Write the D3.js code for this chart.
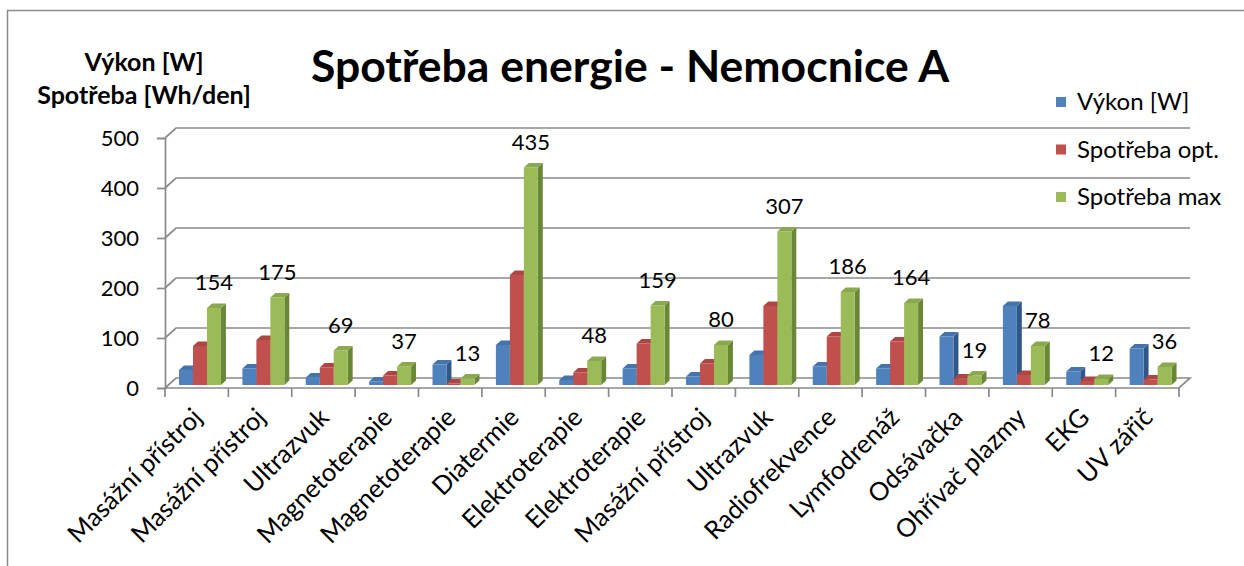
<!DOCTYPE html>
<html>
<head>
<meta charset="utf-8">
<script src="https://cdn.jsdelivr.net/npm/d3@7"></script>
<style>
  html, body { margin: 0; padding: 0; background: #fff; }
  svg { display: block; font-family: Lato, "Open Sans", sans-serif; }
</style>
</head>
<body>
<svg id="chart" width="1244" height="566"></svg>
<script>
// Device names along the category axis (duplicates are separate devices)
const categories = [
  "Masážní přístroj", "Masážní přístroj", "Ultrazvuk", "Magnetoterapie",
  "Magnetoterapie", "Diatermie", "Elektroterapie", "Elektroterapie",
  "Masážní přístroj", "Ultrazvuk", "Radiofrekvence", "Lymfodrenáž",
  "Odsávačka", "Ohřívač plazmy", "EKG", "UV zářič"
];
const seriesNames = ["Výkon [W]", "Spotřeba opt.", "Spotřeba max"];
const vykon       = [30, 33, 15, 7, 41, 80, 10, 33, 17, 60, 37, 33, 97, 158, 27, 73];
const spotrebaOpt = [78, 90, 35, 19, 3, 220, 25, 83, 43, 158, 97, 87, 13, 20, 8, 11];
const spotrebaMax = [154, 175, 69, 37, 13, 435, 48, 159, 80, 307, 186, 164, 19, 78, 12, 36];
const yTicks = [0, 100, 200, 300, 400, 500];

const series = [vykon, spotrebaOpt, spotrebaMax];
const palette = [
  { front: "#4f81bd", top: "#4574ad", side: "#2f5788" },
  { front: "#c0504d", top: "#ad4643", side: "#8a3532" },
  { front: "#9bbb59", top: "#8aa84d", side: "#6a8738" }
];

const svg = d3.select("#chart");
const gridColor = "#8a8a8a";

// Front plane scales
const x0 = d3.scaleBand().domain(d3.range(categories.length))
  .range([165, 1179]).paddingInner(0.338).paddingOuter(0.169);
const x1 = d3.scaleBand().domain(d3.range(series.length)).range([0, x0.bandwidth()]);
const y = d3.scaleLinear().domain([0, 500]).range([388, 138]);

// Depth projection: 0 = front plane, 1 = back wall
const depthX = d3.scaleLinear().domain([0, 1]).range([0, 11]);
const depthY = d3.scaleLinear().domain([0, 1]).range([0, -10]);
const barFront = 0.3, barBack = 0.75;

// Outer chart border
svg.append("rect").attr("x", 7.5).attr("y", 10.5).attr("width", 1400).attr("height", 700)
  .attr("fill", "none").attr("stroke", "#8c8c8c").attr("stroke-width", 1.5);

// Walls: gridlines on side wall + back wall
const walls = svg.append("g").attr("fill", "none").attr("stroke", gridColor).attr("stroke-width", 1.7);
const xL = x0.range()[0], xR = x0.range()[1];
yTicks.forEach(t => {
  const yf = y(t);
  const pts = t === 0
    ? [[xL, yf], [xL + depthX(1), yf + depthY(1)], [xR + depthX(1), yf + depthY(1)], [xR, yf], [xL, yf]]
    : [[xL, yf], [xL + depthX(1), yf + depthY(1)], [xR + depthX(1), yf + depthY(1)]];
  walls.append("path").attr("d", d3.line()(pts));
});

// Y axis (front left edge) with ticks and labels
const yAxis = d3.axisLeft(y).tickValues(yTicks).tickSize(8).tickPadding(18);
const yg = svg.append("g").attr("transform", `translate(${xL},0)`).call(yAxis);
yg.select(".domain").attr("stroke", gridColor).attr("stroke-width", 1.7);
yg.selectAll(".tick line").attr("stroke", gridColor).attr("stroke-width", 1.7);
yg.selectAll(".tick text").attr("font-size", 22).attr("fill", "#000")
  .attr("font-family", "Lato, sans-serif");

// X axis category ticks
const tickXs = d3.range(categories.length + 1).map(i => xL + i * x0.step());
svg.append("g").selectAll("line").data(tickXs).join("line")
  .attr("x1", d => d).attr("x2", d => d).attr("y1", y(0)).attr("y2", y(0) + 9)
  .attr("stroke", gridColor).attr("stroke-width", 1.7);

// Bars
const ddx = depthX(barBack) - depthX(barFront), ddy = depthY(barBack) - depthY(barFront);
const bars = svg.append("g");
categories.forEach((c, i) => {
  series.forEach((vals, s) => {
    const v = vals[i];
    const bx = x0(i) + x1(s) + depthX(barFront);
    const w = x1.bandwidth();
    const yb = y(0) + depthY(barFront);
    const yt = y(v) + depthY(barFront);
    const col = palette[s];
    // side face
    bars.append("path").attr("fill", col.side)
      .attr("d", d3.line()([[bx + w, yt], [bx + w + ddx, yt + ddy], [bx + w + ddx, yb + ddy], [bx + w, yb]]) + "Z");
    // front face
    bars.append("rect").attr("x", bx).attr("y", yt).attr("width", w).attr("height", yb - yt)
      .attr("fill", col.front);
    // top face
    bars.append("path").attr("fill", col.top)
      .attr("d", d3.line()([[bx, yt], [bx + w, yt], [bx + w + ddx, yt + ddy], [bx + ddx, yt + ddy]]) + "Z");
  });
});

// Value labels above the max-consumption bars
svg.append("g").selectAll("text").data(spotrebaMax).join("text")
  .attr("x", (d, i) => x0(i) + x1(2) + x1.bandwidth() / 2 + depthX(barFront))
  .attr("y", d => y(d) + depthY(barFront) - 18)
  .attr("text-anchor", "middle").attr("font-size", 22).attr("fill", "#000")
  .text(d => d);

// Category labels, rotated
svg.append("g").selectAll("text").data(categories).join("text")
  .attr("transform", (d, i) => `translate(${x0(i) + x0.bandwidth() / 2 + 7},${y(0) + 31}) rotate(-45)`)
  .attr("text-anchor", "end").attr("font-size", 25.5).attr("fill", "#000")
  .text(d => d);

// Title
svg.append("text").attr("x", 630).attr("y", 82).attr("text-anchor", "middle")
  .attr("font-size", 44.5).attr("font-weight", "bold").attr("fill", "#000")
  .text("Spotřeba energie - Nemocnice A");

// Axis title (two lines)
const at = svg.append("text").attr("text-anchor", "middle").attr("font-weight", "bold")
  .attr("font-size", 25).attr("fill", "#000");
at.append("tspan").attr("x", 144).attr("y", 71).text("Výkon [W]");
at.append("tspan").attr("x", 144).attr("y", 104).text("Spotřeba [Wh/den]");

// Legend
const lg = svg.append("g").selectAll("g").data(seriesNames).join("g")
  .attr("transform", (d, i) => `translate(1056,${102 + i * 47.5})`);
lg.append("rect").attr("x", 0).attr("y", -5).attr("width", 10).attr("height", 10)
  .attr("fill", (d, i) => palette[i].front);
lg.append("text").attr("x", 21).attr("y", 0).attr("dy", "0.35em")
  .attr("font-size", 24).attr("fill", "#000").text(d => d);
</script>
</body>
</html>
